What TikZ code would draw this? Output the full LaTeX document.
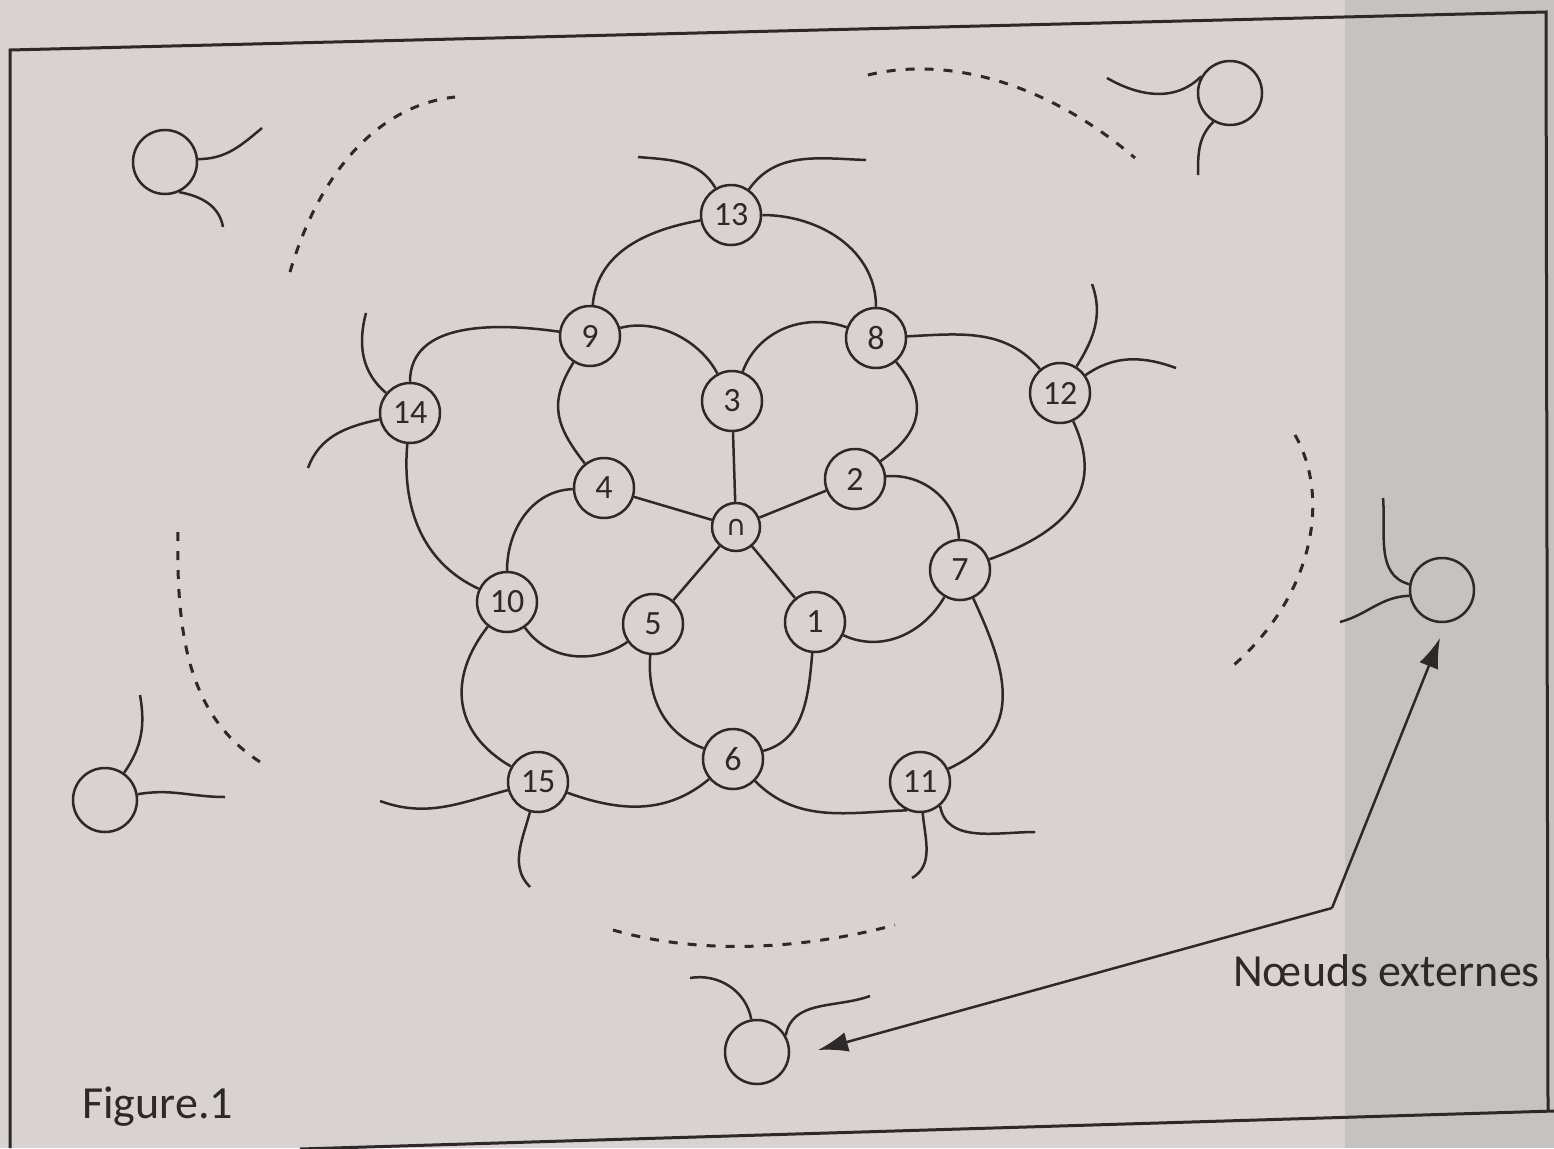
\documentclass[tikz,border=0pt]{standalone}
\usepackage{fontspec}
\setmainfont{Carlito}
\newfontfamily\symf{DejaVu Sans}
\usetikzlibrary{arrows.meta}
\definecolor{bg}{RGB}{216,210,208}
\definecolor{strip}{RGB}{198,194,194}
\definecolor{ink}{RGB}{45,41,41}
\begin{document}
\begin{tikzpicture}[x=1pt,y=1pt,
  nd/.style={circle,draw=ink,line width=2.5pt,minimum size=60pt,inner sep=0pt,font=\fontsize{34}{34}\selectfont,text=ink},
  ctr/.style={circle,draw=ink,line width=2.5pt,minimum size=48pt,inner sep=0pt,font=\symf\fontsize{28}{28}\selectfont,text=ink},
  ext/.style={circle,draw=ink,line width=2.5pt,minimum size=64pt,inner sep=0pt},
  ln/.style={draw=ink,line width=2.5pt},
  dsh/.style={draw=ink,line width=3pt,dash pattern=on 9pt off 10pt},
  frm/.style={draw=ink,line width=3pt},
  lbl/.style={font=\fontsize{46}{48}\selectfont,text=ink,inner sep=0pt},
  arr/.style={draw=ink,line width=2.5pt,-{Latex[length=30pt,width=20pt]}}
]
\useasboundingbox (0,0) rectangle (1554,-1148);
\fill[bg] (0,0) rectangle (1554,-1148);
\fill[strip] (1345,0) rectangle (1554,-1148);
% frame
\draw[frm] (10,-1148) -- (10,-50) -- (1546,-12) -- (1548,-1110);
\draw[frm] (300,-1149) -- (1554,-1111);

% network nodes
\node[ctr] (c) at (736,-527) {∩};
\node[nd] (n3) at (732,-401) {3};
\node[nd] (n4) at (604,-488) {4};
\node[nd] (n2) at (855,-479) {2};
\node[nd] (n5) at (653,-624) {5};
\node[nd] (n1) at (815,-622) {1};
\node[nd] (n9) at (590,-336) {9};
\node[nd] (n8) at (876,-338) {8};
\node[nd] (n13) at (731,-215) {13};
\node[nd] (n14) at (410,-413) {14};
\node[nd] (n12) at (1060,-393) {12};
\node[nd] (n7) at (960,-570) {7};
\node[nd] (n10) at (507,-602) {10};
\node[nd] (n6) at (733,-759) {6};
\node[nd] (n15) at (538,-782) {15};
\node[nd] (n11) at (920,-782) {11};

% tail ends
\coordinate (t13a) at (638,-157);
\coordinate (t13b) at (866,-160);
\coordinate (t14a) at (366,-313);
\coordinate (t14b) at (308,-468);
\coordinate (t12a) at (1092,-284);
\coordinate (t12b) at (1176,-368);
\coordinate (t15a) at (380,-801);
\coordinate (t15b) at (530,-887);
\coordinate (t11a) at (912,-878);
\coordinate (t11b) at (1035,-832);

% spokes
\draw[ln] (c) -- (n3);
\draw[ln] (c) -- (n4);
\draw[ln] (c) -- (n2);
\draw[ln] (c) -- (n5);
\draw[ln] (c) -- (n1);

% curved links
\draw[ln] (n9) to[out=15,in=118,looseness=0.9] (n3);
\draw[ln] (n3) to[out=70,in=160] (n8);
\draw[ln] (n9) to[out=85,in=190] (n13);
\draw[ln] (n13) to[out=0,in=90] (n8);
\draw[ln] (n9) to[out=172,in=90] (n14);
\draw[ln] (n9) to[out=238,in=128,looseness=1.2] (n4);
\draw[ln] (n14) to[out=265,in=155] (n10);
\draw[ln] (n8) to[out=3,in=130] (n12);
\draw[ln] (n12) to[out=-65,in=20,looseness=1.25] (n7);
\draw[ln] (n8) to[out=-50,in=35,looseness=1.3] (n2);
\draw[ln] (n2) to[out=5,in=92] (n7);
\draw[ln] (n1) to[out=-25,in=240] (n7);
\draw[ln] (n7) to[out=-65,in=25,looseness=1.25] (n11);
\draw[ln] (n4) to[out=182,in=90] (n10);
\draw[ln] (n10) to[out=-55,in=215] (n5);
\draw[ln] (n10) to[out=-128,in=150,looseness=1.2] (n15);
\draw[ln] (n5) to[out=-95,in=160] (n6);
\draw[ln] (n1) to[out=-95,in=15] (n6);
\draw[ln] (n6) to[out=-140,in=-20] (n15);
\draw[ln] (n6) to[out=-45,in=182] (n11.-115);

% tails
\draw[ln] (n13) to[out=120,in=-5] (t13a);
\draw[ln] (n13) to[out=55,in=178] (t13b);
\draw[ln] (n14) to[out=140,in=255] (t14a);
\draw[ln] (n14) to[out=192,in=70] (t14b);
\draw[ln] (n12) to[out=58,in=-70] (t12a);
\draw[ln] (n12) to[out=35,in=160] (t12b);
\draw[ln] (n15) to[out=195,in=-20] (t15a);
\draw[ln] (n15) to[out=-105,in=135] (t15b);
\draw[ln] (n11) to[out=-85,in=30] (t11a);
\draw[ln] (n11.-50) to[out=-80,in=180] (t11b);

% external nodes
\node[ext] (eTL) at (165,-162) {};
\node[ext] (eTR) at (1230,-93) {};
\node[ext] (eR) at (1442,-590) {};
\node[ext] (eBL) at (105,-800) {};
\node[ext] (eB) at (757,-1052) {};

\coordinate (a1) at (262,-128);
\coordinate (a2) at (223,-227);
\coordinate (b1) at (1107,-78);
\coordinate (b2) at (1198,-175);
\coordinate (r1) at (1383,-498);
\coordinate (r2) at (1340,-622);
\coordinate (l1) at (140,-695);
\coordinate (l2) at (225,-797);
\coordinate (d1) at (690,-978);
\coordinate (d2) at (870,-996);

\draw[ln] (eTL.5) to[out=0,in=220] (a1);
\draw[ln] (eTL.-65) to[out=-10,in=100] (a2);
\draw[ln] (eTR.150) to[out=225,in=-30] (b1);
\draw[ln] (eTR.-120) to[out=225,in=90] (b2);
\draw[ln] (eR.170) to[out=165,in=-85] (r1);
\draw[ln] (eR.190) to[out=182,in=15] (r2);
\draw[ln] (eBL.55) to[out=55,in=-80] (l1);
\draw[ln] (eBL.10) to[out=10,in=180] (l2);
\draw[ln] (eB.100) to[out=100,in=10] (d1);
\draw[ln] (eB.30) to[out=80,in=200] (d2);

% dashed arcs
\draw[dsh] (290,-272) .. controls (320,-170) and (380,-105) .. (455,-97);
\draw[dsh] (868,-75) .. controls (950,-55) and (1050,-85) .. (1135,-158);
\draw[dsh] (1295,-435) .. controls (1332,-500) and (1312,-600) .. (1228,-670);
\draw[dsh] (178,-532) .. controls (176,-640) and (190,-720) .. (265,-765);
\draw[dsh] (613,-930) .. controls (700,-955) and (800,-950) .. (895,-925);

% label with arrows
\coordinate (k) at (1332,-908);
\coordinate (tipR) at (1440,-638);
\coordinate (tipB) at (818,-1050);
\draw[arr] (k) -- (tipR);
\draw[arr] (k) -- (tipB);
\node[lbl, anchor=base west] (lab) at (1233,-986) {Nœuds externes};
\node[lbl, anchor=base west] (fig) at (82,-1118) {Figure.1};
\end{tikzpicture}
\end{document}
